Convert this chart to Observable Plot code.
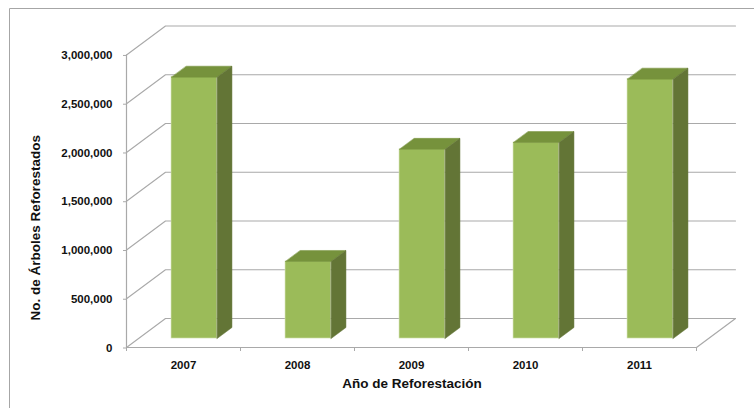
<!DOCTYPE html>
<html>
<head>
<meta charset="utf-8">
<script src="https://cdn.jsdelivr.net/npm/d3@7"></script>
<script src="https://cdn.jsdelivr.net/npm/@observablehq/plot@0.6"></script>
<style>
html,body{margin:0;padding:0;background:#fff;overflow:hidden}
svg{display:block}
</style>
</head>
<body>
<div id="chart"></div>
<script>
const years = ["2007", "2008", "2009", "2010", "2011"];
const trees = [2680000, 790000, 1940000, 2010000, 2660000];
const valueTicks = [0, 500000, 1000000, 1500000, 2000000, 2500000, 3000000];
const xTitle = "Año de Reforestación";
const yTitle = "No. de Árboles Reforestados";

// Oblique projection: the depth of the floor, in category and value units
const depthX = 0.342, depthY = 297000;
const barLeft = 0.289, barWidth = 0.4, barNear = 0.31, barFar = 0.69;
const px = (c, t) => c + t * depthX;
const py = (v, t) => v + t * depthY;

const grid = valueTicks.flatMap((v) => [
  {k: v, x: px(0, 0), y: py(v, 0)},
  {k: v, x: px(0, 1), y: py(v, 1)},
  {k: v, x: px(years.length, 1), y: py(v, 1)}
]);
const floor = [
  {x: px(years.length, 1), y: py(0, 1)},
  {x: px(years.length, 0), y: py(0, 0)},
  {x: px(0, 0), y: py(0, 0)}
];
const bars = years.map((year, i) => ({year, v: trees[i], l: i + barLeft, r: i + barLeft + barWidth}));
const topFace = bars.flatMap((b) => [
  {k: b.year, x: px(b.l, barNear), y: py(b.v, barNear)},
  {k: b.year, x: px(b.r, barNear), y: py(b.v, barNear)},
  {k: b.year, x: px(b.r, barFar), y: py(b.v, barFar)},
  {k: b.year, x: px(b.l, barFar), y: py(b.v, barFar)}
]);
const sideFace = bars.flatMap((b) => [
  {k: b.year, x: px(b.r, barNear), y: py(b.v, barNear)},
  {k: b.year, x: px(b.r, barFar), y: py(b.v, barFar)},
  {k: b.year, x: px(b.r, barFar), y: py(0, barFar)},
  {k: b.year, x: px(b.r, barNear), y: py(0, barNear)}
]);

const outerBorder = () => {
  const s = d3.create("svg:path")
    .attr("d", "M9.5,408V8.5H754")
    .attr("fill", "none").attr("stroke", "#a6a6a6");
  return s.node();
};

const chart = Plot.plot({
  width: 754, height: 408,
  marginLeft: 126, marginRight: 19, marginTop: 25.5, marginBottom: 61,
  style: {fontFamily: "'Liberation Sans', Arial, sans-serif", fontSize: "11.5px", fontWeight: "bold", color: "#111", background: "#fff"},
  x: {type: "linear", domain: [0, years.length + depthX]},
  y: {type: "linear", domain: [0, 3000000 + depthY]},
  marks: [
    outerBorder,
    Plot.line(grid, {x: "x", y: "y", z: "k", stroke: "#a9a9a9", strokeWidth: 1.1}),
    Plot.line(floor, {x: "x", y: "y", stroke: "#a9a9a9", strokeWidth: 1.2}),
    Plot.ruleX([0], {y1: 0, y2: 3000000, stroke: "#a9a9a9", strokeWidth: 1.2}),
    Plot.rect(bars, {x1: (d) => px(d.l, barNear), x2: (d) => px(d.r, barNear), y1: py(0, barNear), y2: (d) => py(d.v, barNear), fill: "#9BBB59", stroke: "#d4e2b4", strokeWidth: 0.6}),
    Plot.line(topFace, {x: "x", y: "y", z: "k", curve: "linear-closed", fill: "#76923C", stroke: "#76923C", strokeWidth: 0.5}),
    Plot.line(sideFace, {x: "x", y: "y", z: "k", curve: "linear-closed", fill: "#637536", stroke: "#637536", strokeWidth: 0.5}),
    Plot.axisY({ticks: valueTicks, tickFormat: d3.format(","), label: null, tickSize: 3, tickPadding: 11, dy: 0.5, stroke: "#a9a9a9"}),
    Plot.axisX({ticks: d3.range(years.length + 1), tickFormat: () => "", label: null, tickSize: 4, stroke: "#a9a9a9"}),
    Plot.text(years, {x: (d, i) => i + 0.5, y: 0, dy: 18}),
    Plot.text([xTitle], {frameAnchor: "bottom", dx: -19, dy: 40, fontSize: 13.5}),
    Plot.text([yTitle], {frameAnchor: "left", textAnchor: "middle", dx: -91, dy: 41, rotate: -90, fontSize: 13.5})
  ]
});
document.getElementById("chart").appendChild(chart);
</script>
</body>
</html>
